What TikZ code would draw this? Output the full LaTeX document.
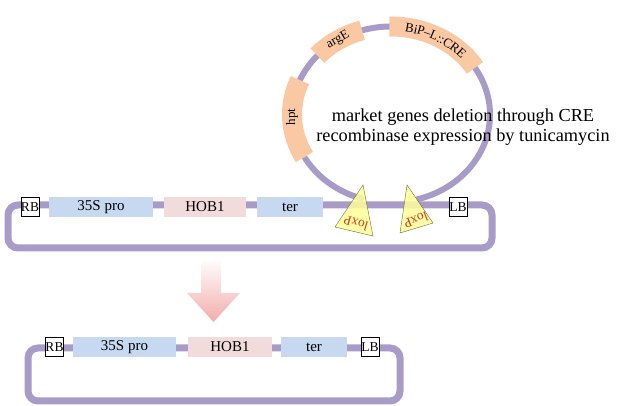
\documentclass[tikz,border=0pt]{standalone}
\usepackage{fontspec}
\setmainfont{Liberation Serif}
\usetikzlibrary{decorations.text}
\definecolor{vector}{HTML}{A99BC8}
\definecolor{marker}{HTML}{FAC9A3}
\definecolor{probox}{HTML}{C6D9F1}
\definecolor{hobbox}{HTML}{F2DCDB}
\definecolor{loxfill}{HTML}{FFFF99}
\definecolor{loxline}{HTML}{5F7030}
\definecolor{loxtext}{HTML}{D8361A}
\definecolor{arrowpink}{HTML}{F2ACAC}

\begin{document}
\begin{tikzpicture}[x=1pt,y=1pt,inner sep=0pt,outer sep=0pt,
	backbone/.style={draw=vector,line width=7pt,rounded corners=10pt},
	gene/.style={minimum height=20pt,font=\fontsize{15}{15}\selectfont},
	border/.style={draw,thin,fill=white,minimum width=18pt,minimum height=19pt,font=\fontsize{13.5}{14}\selectfont},
	lox/.style={draw=loxline,fill=loxfill,fill opacity=0.85,thin},
	loxlabel/.style={text=loxtext,font=\fontsize{13.5}{13.5}\selectfont},
	marklabel/.style={font=\fontsize{13}{13}\selectfont},
	seglabel/.style={postaction={decorate},decoration={text along path,text align=center,raise=-4.5pt,text={|\fontsize{13}{13}\selectfont|#1}}}]
	\useasboundingbox (0,0) rectangle (642,406);
	% plasmid with the marker genes
	\draw[vector,line width=6pt] (391,291.5) ++(-75:99 and 88) arc[start angle=-75,end angle=254,x radius=99,y radius=88];
	\draw[marker,line width=20pt] (391,291.5) ++(157:99 and 88) arc[start angle=157,end angle=209,x radius=99,y radius=88];
	\draw[marker,line width=20pt] (391,291.5) ++(107:99 and 88) arc[start angle=107,end angle=138,x radius=99,y radius=88];
	\draw[marker,line width=20pt] (391,291.5) ++(32:99 and 88) arc[start angle=32,end angle=91,x radius=99,y radius=88];
	\node[marklabel,rotate=90] (hpt) at (292,289) {hpt};
	\node[marklabel,rotate=29.5] (arge) at (338,366) {argE};
	\path[seglabel={BiP–L::CRE}] (391,291.5) ++(91:99 and 88) arc[start angle=91,end angle=32,x radius=99,y radius=88];
	\node[align=center,font=\fontsize{18.3}{20}\selectfont] (note) at (463,279) {market genes deletion through CRE\\recombinase expression by tunicamycin};

	% T-DNA before deletion
	\draw[backbone] (8,201) rectangle (492,158);
	\node[border] (rb1) at (30,199) {RB};
	\node[gene,fill=probox,minimum width=104pt] (pro1) at (101,199) {35S pro};
	\node[gene,fill=hobbox,minimum width=82pt] (hob1) at (205,199) {HOB1};
	\node[gene,fill=probox,minimum width=66pt] (ter1) at (290,199) {ter};
	\node[border] (lb1) at (458,199) {LB};
	\draw[lox] (363,221) -- (335,179) -- (373,170) -- cycle;
	\draw[lox] (407,221) -- (400,173) -- (433,183) -- cycle;
	\node[loxlabel,rotate=163] (lox1) at (356,183) {loxP};
	\node[loxlabel,rotate=201] (lox2) at (416,186) {loxP};

	% arrow
	\shade[top color=white,bottom color=arrowpink] (201,148) -- (221,148) -- (221,113) -- (240,113) -- (213.5,84) -- (187,113) -- (201,113) -- cycle;

	% T-DNA after deletion
	\draw[backbone] (28,58) rectangle (400,5);
	\node[border] (rb2) at (54.5,59) {RB};
	\node[gene,fill=probox,minimum width=103pt] (pro2) at (124.5,59) {35S pro};
	\node[gene,fill=hobbox,minimum width=84pt] (hob2) at (230,59) {HOB1};
	\node[gene,fill=probox,minimum width=66pt] (ter2) at (314,59) {ter};
	\node[border] (lb2) at (370,59) {LB};
\end{tikzpicture}
\end{document}
